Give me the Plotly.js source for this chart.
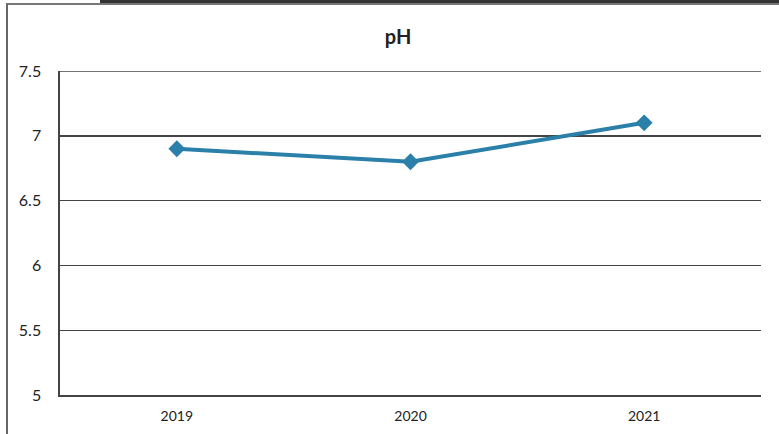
<!DOCTYPE html>
<html>
<head>
<meta charset="utf-8">
<script src="https://cdn.plot.ly/plotly-3.0.1.min.js"></script>
<style>
  html, body { margin: 0; padding: 0; background: #fff; }
  #wrap { position: relative; width: 779px; height: 434px; overflow: hidden; }
  #chart { position: absolute; left: 0; top: 0; width: 779px; height: 434px; }
  #frame { position: absolute; left: 6px; top: 3px; width: 800px; height: 500px;
           border-left: 2px solid #666; border-top: 2px solid #777; pointer-events: none; }
  #topbar { position: absolute; left: 100px; top: 0; width: 679px; height: 3px; background: #333; }
</style>
</head>
<body>
<div id="wrap">
  <div id="chart"></div>
  <div id="frame"></div>
  <div id="topbar"></div>
</div>
<script>
const years = ['2019', '2020', '2021'];
const phValues = [6.9, 6.8, 7.1];
const yTicks = [5, 5.5, 6, 6.5, 7, 7.5];
const yTickLabels = ['5', '5.5', '6', '6.5', '7', '7.5'];
const yMax = 7.5;

const trace = {
  x: years,
  y: phValues,
  type: 'scatter',
  mode: 'lines+markers',
  line: { color: '#2a80a9', width: 4 },
  marker: { symbol: 'diamond', size: 13, color: '#2a80a9' },
  hoverinfo: 'skip'
};

const layout = {
  width: 779,
  height: 434,
  margin: { l: 60, r: 18, t: 71, b: 39 },
  paper_bgcolor: 'rgba(0,0,0,0)',
  plot_bgcolor: '#fff',
  showlegend: false,
  font: { family: 'Lato, "Open Sans", sans-serif', color: '#222', size: 14 },
  title: {
    text: '<b>pH</b>',
    font: { family: 'Lato, "Open Sans", sans-serif', size: 20, color: '#222' },
    x: 0.511, xanchor: 'center',
    y: 0.915, yanchor: 'middle'
  },
  xaxis: {
    type: 'category',
    range: [-0.5, 2.5],
    showgrid: false,
    showline: true,
    linecolor: '#444',
    linewidth: 1.6,
    ticks: '',
    ticklabelstandoff: 8,
    tickfont: { size: 14, color: '#222' },
    zeroline: false,
    fixedrange: true
  },
  yaxis: {
    range: [5, yMax],
    tickvals: yTicks,
    ticktext: yTickLabels,
    showgrid: true,
    gridcolor: '#444',
    gridwidth: 1.4,
    showline: true,
    linecolor: '#444',
    linewidth: 1.6,
    ticks: '',
    ticklabelstandoff: 14,
    tickfont: { size: 16, color: '#222' },
    zeroline: false,
    fixedrange: true
  },
  shapes: [{
    type: 'line', xref: 'paper', yref: 'y',
    x0: 0, x1: 1, y0: yMax, y1: yMax,
    line: { color: '#444', width: 1.4 },
    layer: 'below'
  }]
};

Plotly.newPlot('chart', [trace], layout, { displayModeBar: false, staticPlot: true });
</script>
</body>
</html>
